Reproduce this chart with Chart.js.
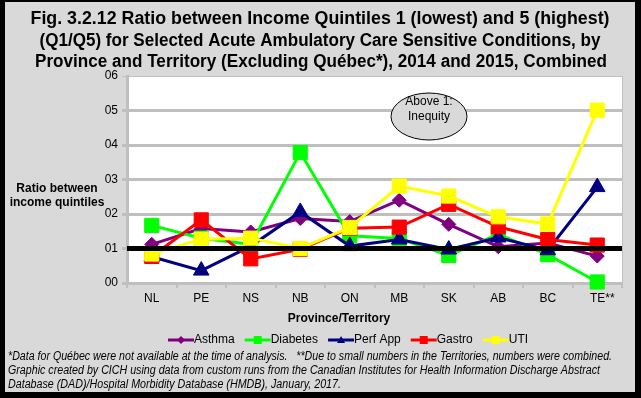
<!DOCTYPE html>
<html>
<head>
<meta charset="utf-8">
<script src="https://cdn.jsdelivr.net/npm/chart.js@4.4.1/dist/chart.umd.min.js"></script>
<style>
    html, body { margin: 0; padding: 0; background: #000; }
    #wrap { width: 641px; height: 398px; }
</style>
</head>
<body>
<div id="wrap"><canvas id="chart" width="641" height="398"></canvas></div>
<script>
const provinces = ['NL', 'PE', 'NS', 'NB', 'ON', 'MB', 'SK', 'AB', 'BC', 'TE**'];
const yTickLabels = ['00', '01', '02', '03', '04', '05', '06'];

const asthma   = [1.12, 1.58, 1.48, 1.87, 1.78, 2.40, 1.70, 1.05, 1.16, 0.78];
const diabetes = [1.67, 1.30, 1.12, 3.78, 1.37, 1.29, 0.80, 1.41, 0.82, 0.03];
const perfApp  = [0.76, 0.36, 1.07, 2.06, 1.07, 1.26, 0.97, 1.32, 0.95, 2.78];
const gastro   = [0.77, 1.83, 0.70, 0.98, 1.59, 1.62, 2.28, 1.63, 1.26, 1.10];
const uti      = [0.84, 1.27, 1.30, 1.00, 1.61, 2.81, 2.52, 1.92, 1.71, 5.01];

const titleLines = [
    'Fig. 3.2.12 Ratio between Income Quintiles 1 (lowest) and 5 (highest)',
    '(Q1/Q5) for Selected Acute Ambulatory Care Sensitive Conditions, by',
    'Province and Territory (Excluding Québec*), 2014 and 2015, Combined'
];
const yAxisLabel = ['Ratio between', 'income quintiles'];
const xAxisLabel = 'Province/Territory';
const noteLines = ['Above 1:', 'Inequity'];
const footnotes = [
    '*Data for Québec were not available at the time of analysis.   **Due to small numbers in the Territories, numbers were combined.',
    'Graphic created by CICH using data from custom runs from the Canadian Institutes for Health Information Discharge Abstract',
    'Database (DAD)/Hospital Morbidity Database (HMDB), January, 2017.'
];

const FONT = '"Liberation Sans", Arial, sans-serif';
const GRID = '#bfbfbf';

function makeDataset(label, data, color, style, radius, order) {
    return {
        label: label,
        data: data,
        borderColor: color,
        backgroundColor: color,
        borderWidth: 3,
        pointStyle: style,
        pointRadius: radius,
        pointBorderWidth: 1,
        pointBackgroundColor: color,
        pointBorderColor: color,
        tension: 0,
        clip: false,
        order: order
    };
}

// draw text squeezed/stretched horizontally to a given width
function fitText(ctx, text, x, y, width) {
    const w = ctx.measureText(text).width;
    ctx.save();
    ctx.translate(x, y);
    ctx.scale(width / w, 1);
    ctx.fillText(text, 0, 0);
    ctx.restore();
}

function drawMarker(ctx, style, x, y, r) {
    ctx.beginPath();
    if (style === 'rect') {
        ctx.rect(x - r, y - r, 2 * r, 2 * r);
    } else if (style === 'rectRot') {
        ctx.moveTo(x, y - r);
        ctx.lineTo(x + r, y);
        ctx.lineTo(x, y + r);
        ctx.lineTo(x - r, y);
        ctx.closePath();
    } else {
        ctx.moveTo(x, y - r);
        ctx.lineTo(x + r, y + r * 0.75);
        ctx.lineTo(x - r, y + r * 0.75);
        ctx.closePath();
    }
    ctx.fill();
}

const framePlugin = {
    id: 'frame',
    beforeDraw(chart) {
        const ctx = chart.ctx;
        const a = chart.chartArea;
        ctx.save();
        ctx.fillStyle = '#000';
        ctx.fillRect(0, 0, chart.width, chart.height);
        ctx.fillStyle = '#d9d9d9';
        ctx.fillRect(5, 2, 630, 390);
        ctx.fillStyle = '#fff';
        ctx.fillRect(a.left, a.top, a.right - a.left, a.bottom - a.top);
        ctx.strokeStyle = GRID;
        ctx.lineWidth = 1;
        ctx.strokeRect(a.left, a.top + 0.5, a.right - a.left + 0.5, a.bottom - a.top);
        ctx.restore();
    },
    afterDatasetsDraw(chart) {
        // thick reference line at ratio 1
        const ctx = chart.ctx;
        const a = chart.chartArea;
        const y = chart.scales.y.getPixelForValue(1);
        ctx.save();
        ctx.strokeStyle = '#000';
        ctx.lineWidth = 5;
        ctx.beginPath();
        ctx.moveTo(a.left, y);
        ctx.lineTo(a.right, y);
        ctx.stroke();
        ctx.restore();
    },
    afterDraw(chart) {
        const ctx = chart.ctx;
        ctx.save();
        ctx.fillStyle = '#000';
        ctx.textBaseline = 'middle';

        // title
        ctx.font = 'bold 18px ' + FONT;
        ctx.textAlign = 'center';
        fitText(ctx, titleLines[0], 320, 19, 579);
        fitText(ctx, titleLines[1], 320, 41, 561);
        fitText(ctx, titleLines[2], 321, 62, 572);

        // axis labels
        ctx.font = 'bold 12px ' + FONT;
        ctx.fillText(yAxisLabel[0], 57, 189);
        ctx.fillText(yAxisLabel[1], 57, 203);
        ctx.fillText(xAxisLabel, 339, 319);

        // inequity note
        ctx.beginPath();
        ctx.ellipse(429, 116.5, 38, 23.5, 0, 0, Math.PI * 2);
        ctx.fillStyle = '#d9d9d9';
        ctx.fill();
        ctx.strokeStyle = '#000';
        ctx.lineWidth = 1;
        ctx.stroke();
        ctx.fillStyle = '#000';
        ctx.font = '12px ' + FONT;
        ctx.fillText(noteLines[0], 429, 102);
        ctx.fillText(noteLines[1], 429, 117);

        // legend
        ctx.textAlign = 'left';
        ctx.font = '12px ' + FONT;
        let x = 168;
        const ly = 340;
        chart.data.datasets.forEach(ds => {
            ctx.strokeStyle = ds.borderColor;
            ctx.lineWidth = 3;
            ctx.beginPath();
            ctx.moveTo(x, ly);
            ctx.lineTo(x + 26, ly);
            ctx.stroke();
            ctx.fillStyle = ds.borderColor;
            drawMarker(ctx, ds.pointStyle, x + 13, ly, 4);
            ctx.fillStyle = '#000';
            ctx.fillText(ds.label, x + 26, ly);
            x += 26 + ctx.measureText(ds.label).width + 10;
        });

        // footnotes
        ctx.font = 'italic 12px ' + FONT;
        fitText(ctx, footnotes[0], 8, 357, 604);
        fitText(ctx, footnotes[1], 8, 371, 592);
        fitText(ctx, footnotes[2], 8, 385, 333);
        ctx.restore();
    }
};

Chart.defaults.font.family = FONT;
Chart.defaults.font.size = 12;
Chart.defaults.color = '#000';

const chart = new Chart(document.getElementById('chart'), {
    type: 'line',
    data: {
        labels: provinces,
        datasets: [
            makeDataset('Asthma', asthma, '#800080', 'rectRot', 7, 5),
            makeDataset('Diabetes', diabetes, '#00ff00', 'rect', 10, 4),
            makeDataset('Perf App', perfApp, '#000080', 'triangle', 9, 3),
            makeDataset('Gastro', gastro, '#ff0000', 'rect', 10, 2),
            makeDataset('UTI', uti, '#ffff00', 'rect', 10, 1)
        ]
    },
    options: {
        responsive: false,
        animation: false,
        events: [],
        layout: {
            padding: { left: 5, right: 19, top: 76, bottom: 93 }
        },
        scales: {
            x: {
                offset: true,
                grid: {
                    offset: true,
                    drawOnChartArea: false,
                    color: GRID,
                    lineWidth: 2,
                    tickLength: 5
                },
                border: { display: true, color: GRID, width: 3 },
                ticks: {
                    padding: 3,
                    maxRotation: 0,
                    autoSkip: false,
                    // pad the last label so "TE" sits on its tick and the ** hangs right
                    callback: function (value, index) {
                        const label = provinces[index];
                        return label.endsWith('**') ? '   ' + label : label;
                    }
                },
                afterFit: function (scale) { scale.height = 22; }
            },
            y: {
                min: 0,
                max: 6,
                grid: {
                    color: GRID,
                    lineWidth: ctx => ctx.index === 6 ? 1 : 3,
                    tickLength: 5
                },
                border: { display: true, color: GRID, width: 3 },
                ticks: {
                    stepSize: 1,
                    padding: 4,
                    callback: value => yTickLabels[value]
                },
                afterFit: function (scale) { scale.width = 122; }
            }
        },
        plugins: {
            legend: { display: false },
            title: { display: false },
            tooltip: { enabled: false }
        }
    },
    plugins: [framePlugin]
});
</script>
</body>
</html>
